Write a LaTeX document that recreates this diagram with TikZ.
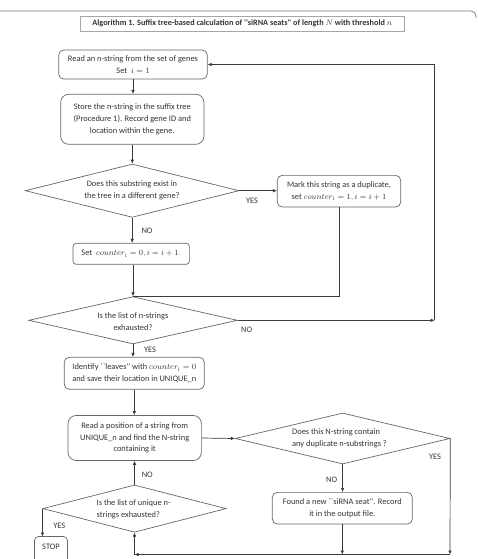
\documentclass[tikz,border=0pt]{standalone}
\usepackage[no-math]{fontspec}
\setmainfont{Carlito}
\newfontfamily\rawfont{Carlito}[Ligatures=TeXOff]
\usetikzlibrary{arrows.meta,shapes.geometric}
\definecolor{ln}{HTML}{3A3A3A}
\definecolor{bx}{HTML}{666666}
\definecolor{tx}{HTML}{333333}
\definecolor{fr}{HTML}{808080}
\begin{document}
\begin{tikzpicture}[x=1pt,y=-1pt,
  every node/.style={font=\fontsize{8.4}{11.7}\selectfont, text=tx},
  box/.style={draw=bx, line width=0.7pt, rounded corners=5pt, align=center, inner sep=0pt},
  dia/.style={draw=bx, line width=0.7pt, diamond, inner sep=0pt},
  dtext/.style={inner sep=0pt},
  conn/.style={draw=ln, line width=0.7pt},
  arr/.style={conn, -{Latex[length=4pt,width=3.6pt]}},
  lbl/.style={inner sep=0pt}
]
\useasboundingbox (0,0) rectangle (478,559);
\clip (0,0) rectangle (478,559);
% outer frame
\draw[draw=fr, line width=0.8pt, rounded corners=5pt] (0,11) -- (476,11) -- (476,18);
% title
\node[draw=gray!70, line width=0.5pt, inner sep=0pt, minimum width=324.3pt, minimum height=14.7pt, font=\fontsize{8.2}{10}\selectfont\bfseries] (title) at (242.2,23.7) {Algorithm 1. Suffix tree-based calculation of {\rawfont''siRNA seats''} of length $N$ with threshold $n$};
% nodes
\node[box, minimum width=148.6pt, minimum height=29pt] (b1) at (133,64.5) {Read an n-string from the set of genes\\Set\ \ $i=1$};
\node[box, rounded corners=8pt, minimum width=143.3pt, minimum height=50pt] (b2) at (132.3,119.3) {Store the n-string in the suffix tree\\(Procedure 1). Record gene ID and\\location within the gene.};
\node[dia, minimum width=213.7pt, minimum height=53.3pt] (d1) at (132.2,190.7) {};
\node[dtext, align=center] (d1t) at (132,190.4) {Does this substring exist in\\the tree in a different gene?};
\node[box, minimum width=123.4pt, minimum height=31.7pt] (mark) at (339,191.2) {Mark this string as a duplicate,\\set $counter_{\mathrm{i}}=1, i=i+1$};
\node[box, rounded corners=3pt, minimum width=116.3pt, minimum height=21pt] (set) at (131.2,253.8) {Set\ \ $counter_{\mathrm{i}}=0, i=i+1.$};
\node[dia, minimum width=208.6pt, minimum height=47.3pt] (d2) at (133,320.3) {};
\node[dtext, align=center] (d2t) at (133,321.3) {Is the list of n-strings\\exhausted?};
\node[box, minimum width=140pt, minimum height=32pt] (ident) at (134.3,373.3) {Identify {\rawfont``leaves''} with $counter_{\mathrm{i}}=0$\\and save their location in UNIQUE\_n};
\node[box, rounded corners=8pt, minimum width=133.3pt, minimum height=45pt] (read) at (134.7,438) {Read a position of a string from\\UNIQUE\_n and find the N-string\\containing it};
\node[dia, minimum width=214.7pt, minimum height=51pt] (d3) at (342.6,438.5) {};
\node[dtext, align=left, anchor=west] (d3t) at (292,438.2) {Does this N-string contain\\any duplicate n-substrings ?};
\node[box, minimum width=140pt, minimum height=31.7pt] (found) at (342.3,508.2) {Found a new {\rawfont``siRNA seat''}. Record\\it in the output file.};
\node[dia, minimum width=183.3pt, minimum height=47.3pt] (d4) at (134.5,508.6) {};
\node[dtext, align=left, anchor=west] (d4t) at (96.5,509.2) {Is the list of unique n-\\strings exhausted?};
\node[inner sep=0pt, minimum width=32.6pt, minimum height=20.6pt] (stop) at (51,547) {STOP};
\draw[draw=bx, line width=0.7pt, rounded corners=4pt] ([yshift=-6pt]stop.south west) |- (stop.north) -| ([yshift=-6pt]stop.south east);
% helper coordinates
\coordinate (rt) at (434.7,320.3);
\coordinate (bR) at (450,554.5);
\coordinate (bL) at (d4.south |- bR);
% connectors
\draw[arr] (b1.south) -- (b1.south |- b2.north);
\draw[arr] (b2.south) -- (b2.south |- d1.north);
\draw[arr] (d1.east) -- (mark.west |- d1.east);
\draw[arr] (d1.south) -- (d1.south |- set.north);
\draw[arr] (d2.north |- set.south) -- (d2.north);
\draw[conn] (mark.south) |- (d2.north);
\draw[arr] (d2.east) -- (rt);
\draw[arr] (rt) |- (b1.east);
\draw[arr] (d2.south) -- (d2.south |- ident.north);
\draw[arr] (ident.south) -- (ident.south |- read.north);
\draw[arr] (read.east) -- (d3.west);
\draw[arr] (d3.east) -- (bR);
\draw[arr] (d3.south) -- (d3.south |- found.north);
\draw[arr] (found.south) -- (found.south |- bR);
\draw[arr] (bR) -- (bL);
\draw[arr] (bL) -- (d4.south);
\draw[arr] (d4.north) -- (d4.north |- read.south);
\draw[arr] (d4.west) -- (d4.west |- stop.north);
% labels
\node[lbl] (yes1) at (252,201) {YES};
\node[lbl] (no1) at (147,231) {NO};
\node[lbl] (no2) at (246.7,330) {NO};
\node[lbl] (yes2) at (150,349.3) {YES};
\node[lbl] (yes3) at (435,456.7) {YES};
\node[lbl] (no3) at (331.7,479.3) {NO};
\node[lbl] (no4) at (147.3,474.3) {NO};
\node[lbl] (yes4) at (59.3,526) {YES};
\end{tikzpicture}
\end{document}
